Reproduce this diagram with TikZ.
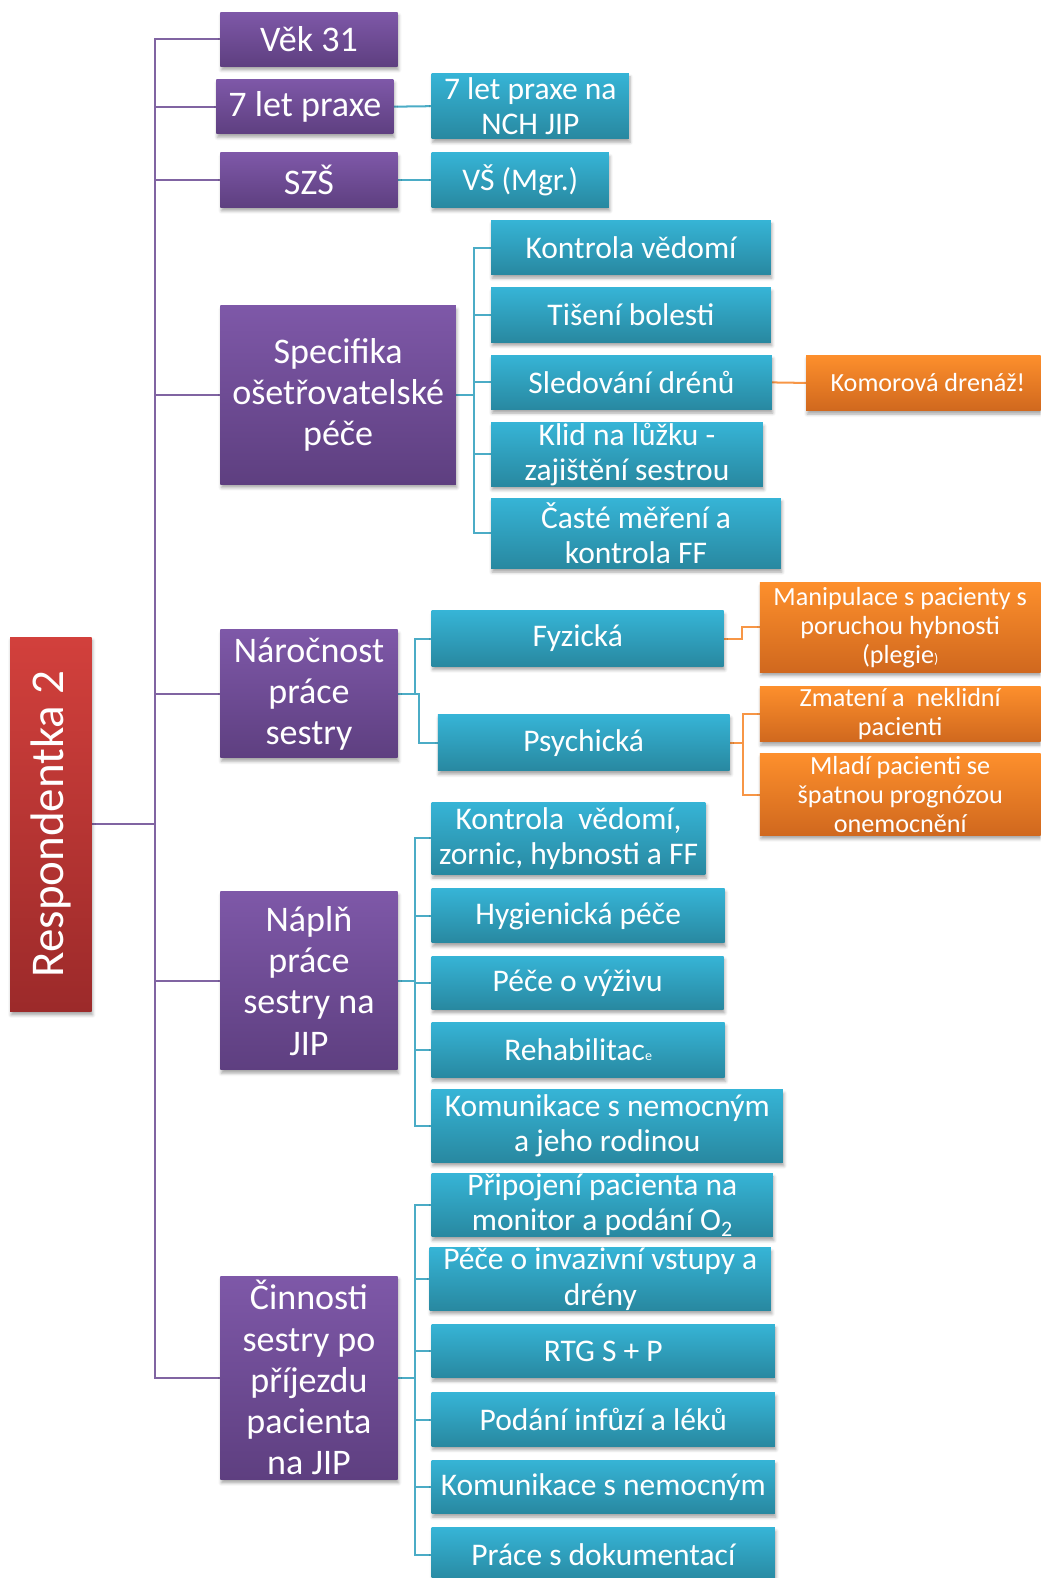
\documentclass[tikz,border=0pt]{standalone}
\usepackage{fontspec}
\setmainfont{Carlito}
\usetikzlibrary{shadows.blur,backgrounds}

% box fills (light top, dark bottom) and connector colours
\definecolor{purpT}{RGB}{126,88,168}
\definecolor{purpB}{RGB}{94,63,128}
\definecolor{blueT}{RGB}{54,180,214}
\definecolor{blueB}{RGB}{40,136,160}
\definecolor{oranT}{RGB}{253,143,44}
\definecolor{oranB}{RGB}{208,104,30}
\definecolor{redT}{RGB}{210,64,60}
\definecolor{redB}{RGB}{156,42,42}
\definecolor{lnPurp}{RGB}{128,100,162}
\definecolor{lnBlue}{RGB}{75,172,198}
\definecolor{lnOran}{RGB}{247,150,70}

\tikzset{
  box/.style={rectangle, inner sep=0pt, text=white, align=center,
    blur shadow={shadow xshift=1pt, shadow yshift=-3.5pt,
                 shadow blur radius=3pt, shadow opacity=35}},
  rootbox/.style={box, top color=redT, bottom color=redB,
    font=\fontsize{46.7}{52}\selectfont},
  purplebox/.style={box, top color=purpT, bottom color=purpB,
    font=\fontsize{35.8}{41}\selectfont},
  bluebox/.style={box, top color=blueT, bottom color=blueB,
    font=\fontsize{31.3}{35}\selectfont},
  orangebox/.style={box, top color=oranT, bottom color=oranB,
    font=\fontsize{26}{29}\selectfont},
  plink/.style={draw=lnPurp, line width=2pt},
  blink/.style={draw=lnBlue, line width=2pt},
  olink/.style={draw=lnOran, line width=2pt},
  sz/.style 2 args={minimum width=#1, minimum height=#2}
}
\newcommand{\smalltxt}[1]{{\fontsize{14}{14}\selectfont #1}}

\begin{document}
\begin{tikzpicture}[x=1pt, y=-1pt]
\useasboundingbox (0,0) rectangle (1034,1568);
\clip (0,0) rectangle (1034,1568);

% root
\node[rootbox, sz={81}{372}] (root) at (50.5,819) {\rotatebox{90}{Respondentka 2}};

% first level
\node[purplebox, sz={176}{54}]  (p1) at (307,39)    {Věk 31};
\node[purplebox, sz={176}{54}]  (p2) at (303,106)   {7 let praxe};
\node[purplebox, sz={176}{54}]  (p3) at (307,179)   {SZŠ};
\node[purplebox, sz={234}{177}] (p4) at (336,392.5) {Specifika\\ošetřovatelské\\péče};
\node[purplebox, sz={176}{127}] (p5) at (307,689.5) {Náročnost\\práce\\sestry};
\node[purplebox, sz={176}{177}] (p6) at (307,974.5) {Náplň\\práce\\sestry na\\JIP};
\node[purplebox, sz={176}{202}] (p7) at (307,1369)  {Činnosti\\sestry po\\příjezdu\\pacienta\\na JIP};

% second level
\node[bluebox, sz={196}{65}] (b1) at (527,105.5) {7 let praxe na\\NCH JIP};
\node[bluebox, sz={176}{54}] (b2) at (517,179)   {VŠ (Mgr.)};

\node[bluebox, sz={278}{54}] (s1) at (627,246)   {Kontrola vědomí};
\node[bluebox, sz={278}{54}] (s2) at (627,313)   {Tišení bolesti};
\node[bluebox, sz={279}{54}] (s3) at (627.5,380) {Sledování drénů};
\node[bluebox, sz={270}{63}] (s4) at (623,451.5) {Klid na lůžku -\\zajištění sestrou};
\node[bluebox, sz={288}{70}] (s5) at (632,530)   {Časté měření a\\kontrola FF};

\node[bluebox, sz={290}{55}] (n1) at (574,634.5) {Fyzická};
\node[bluebox, sz={290}{56}] (n2) at (580,738)   {Psychická};

\node[bluebox, sz={272}{72}] (j1) at (565,833)    {Kontrola~~vědomí,\\zornic, hybnosti a FF};
\node[bluebox, sz={291}{54}] (j2) at (574.5,910)  {Hygienická péče};
\node[bluebox, sz={290}{53}] (j3) at (574,976.5)  {Péče o výživu};
\node[bluebox, sz={291}{55}] (j4) at (574.5,1043.5) {Rehabilitac\smalltxt{e}};
\node[bluebox, sz={349}{72}] (j5) at (603.5,1119) {Komunikace s nemocným\\a jeho rodinou};

\node[bluebox, sz={339}{63}] (c1) at (598.5,1197.5) {Připojení pacienta na\\monitor a podání O\textsubscript{2}};
\node[bluebox, sz={339}{62}] (c2) at (596.5,1271)   {Péče o invazivní vstupy a\\drény};
\node[bluebox, sz={341}{53}] (c3) at (599.5,1342.5) {RTG S + P};
\node[bluebox, sz={341}{53}] (c4) at (599.5,1410.5) {Podání infůzí a léků};
\node[bluebox, sz={341}{53}] (c5) at (599.5,1477.5) {Komunikace s nemocným};
\node[bluebox, sz={341}{54}] (c6) at (599.5,1545)   {Práce s dokumentací};

% third level
\node[orangebox, sz={242}{55}] (o1) at (922,380.5)   {Komorová drenáž!};
\node[orangebox, sz={279}{89}] (o2) at (894.5,623.5) {Manipulace s pacienty s\\poruchou hybnosti\\(plegie\smalltxt{)}};
\node[orangebox, sz={279}{55}] (o3) at (894.5,709.5) {Zmatení a~~neklidní\\pacienti};
\node[orangebox, sz={279}{81}] (o4) at (894.5,789.5) {Mladí pacienti se\\špatnou prognózou\\onemocnění};

% connectors
\begin{scope}[on background layer]
  \foreach \p in {p1,p2,p3,p4,p5,p6,p7}
    \draw[plink] (root.east) -- ++(63,0) |- (\p.west);

  \draw[blink] (p2.east) -- (b1.west);
  \draw[blink] (p3.east) -- (b2.west);

  \foreach \s in {s1,s2,s3,s4,s5}
    \draw[blink] (p4.east) -- ++(18,0) |- (\s.west);
  \draw[olink] (s3.east) -- (o1.west);

  \draw[blink] (p5.east) -- ++(17,0) |- (n1.west);
  \draw[blink] (p5.east) -- ++(21,0) |- (n2.west);
  \draw[olink] (n1.east) -- ++(18,0) |- (o2.west);
  \draw[olink] (n2.east) -- ++(13,0) |- (o3.west);
  \draw[olink] (n2.east) -- ++(13,0) |- (o4.west);

  \foreach \j in {j1,j2,j3,j4,j5}
    \draw[blink] (p6.east) -- ++(17,0) |- (\j.west);
  \foreach \c in {c1,c2,c3,c4,c5,c6}
    \draw[blink] (p7.east) -- ++(17,0) |- (\c.west);
\end{scope}
\end{tikzpicture}
\end{document}
